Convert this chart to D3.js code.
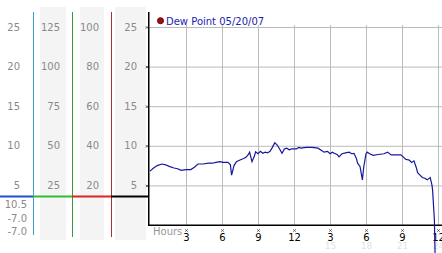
<html>
<head>
	<style>
		body { margin: 0; background: #fff; }
		svg text { font-family: "DejaVu Sans", Verdana, sans-serif; }
	</style>
</head>
<body>
	<script src="https://d3js.org/d3.v7.min.js"></script>
	<svg width="442" height="253"></svg>

	<script>
	// dew point readings, hours since midnight
	var hours = [0.0, 0.3, 0.6, 1.0, 1.3, 1.6, 2.0, 2.3, 2.6, 3.0, 3.4, 3.7, 4.0, 4.4, 4.9, 5.2, 5.5, 5.8, 6.1, 6.5,
		6.7, 6.8, 7.0, 7.2, 7.5, 7.8, 8.0, 8.2, 8.3, 8.4, 8.5, 8.7, 8.8, 9.0, 9.2, 9.4, 9.6, 9.8, 10.0, 10.2,
		10.4, 10.6, 10.8, 11.0, 11.2, 11.4, 11.6, 11.8, 12.2, 12.4, 12.6, 13.0, 13.5, 14.0, 14.3, 14.5, 14.8, 15.0, 15.2, 15.35,
		15.6, 15.75, 16.0, 16.3, 16.6, 16.8, 17.0, 17.2, 17.3, 17.5, 17.7, 17.8, 18.0, 18.1, 18.3, 18.6, 19.0, 19.5, 19.8, 20.1,
		20.5, 20.9, 21.1, 21.3, 21.6, 21.8, 22.0, 22.2, 22.3, 22.5, 22.7, 22.9, 23.1, 23.35, 23.5, 23.55, 23.7, 23.8];
	var dewPoint = [6.8, 7.2, 7.5, 7.7, 7.6, 7.4, 7.2, 7.1, 6.9, 7.0, 7.0, 7.3, 7.7, 7.7, 7.8, 7.8, 7.9, 8.0, 7.9, 7.9,
		7.6, 6.3, 7.5, 8.0, 8.2, 8.4, 8.55, 8.9, 9.2, 8.6, 8.0, 8.7, 9.25, 9.0, 9.3, 9.05, 9.2, 9.1, 9.3, 9.8,
		10.4, 10.1, 9.6, 9.05, 9.6, 9.7, 9.5, 9.6, 9.6, 9.8, 9.7, 9.8, 9.8, 9.7, 9.4, 9.2, 9.3, 9.0, 9.2, 9.05,
		8.9, 8.6, 9.0, 9.1, 9.2, 9.0, 9.05, 8.4, 7.8, 7.4, 5.7, 7.2, 9.0, 9.2, 9.0, 8.8, 8.9, 9.0, 9.2, 8.85,
		8.85, 8.85, 8.6, 8.3, 8.2, 7.9, 8.1, 7.2, 6.6, 6.3, 6.0, 5.9, 5.7, 6.0, 5.0, 4.4, 0.6, -7.0];

	var yTicks = [25, 20, 15, 10, 5];
	var col1 = [25, 20, 15, 10, 5];
	var col2 = [125, 100, 75, 50, 25];
	var col3 = [100, 80, 60, 40, 20];
	var col4 = [25, 20, 15, 10, 5];
	var xTicks = [3, 6, 9, 12, 15, 18, 21, 24];
	var xTickLabels = ["3", "6", "9", "12", "3", "6", "9", "12"];
	var faintTicks = [15, 18, 21, 24];
	var currentLevel = 3.6;
	var stats = ["10.5", "-7.0", "-7.0"];
	var legendLabel = "Dew Point 05/20/07";

	var svg = d3.select("svg");

	var x = d3.scaleLinear().domain([0, 24]).range([150, 438]);
	var y = d3.scaleLinear().domain([0, 25]).range([225, 27]);

	// left side scale columns
	var bands = [[40, 66], [80, 104], [115, 146]];
	svg.selectAll(".band").data(bands).enter().append("rect")
		.attr("x", function(d) { return d[0]; })
		.attr("y", 7)
		.attr("width", function(d) { return d[1] - d[0]; })
		.attr("height", 233)
		.attr("fill", "#f4f4f4");

	var cols = [{vals: col1, right: 20}, {vals: col2, right: 60}, {vals: col3, right: 99}, {vals: col4, right: 137}];
	cols.forEach(function(c) {
		svg.selectAll(null).data(c.vals).enter().append("text")
			.attr("x", c.right)
			.attr("y", function(d, i) { return y(yTicks[i]); })
			.attr("dy", "0.35em")
			.attr("text-anchor", "end")
			.attr("fill", "#8a8a8a")
			.style("font-size", "10px")
			.text(function(d) { return d; });
	});

	var dividers = [{x: 33, color: "#3aa0c8", bottom: 235}, {x: 72, color: "#3a9a3a", bottom: 237}, {x: 111, color: "#a83030", bottom: 237}];
	svg.selectAll(".divider").data(dividers).enter().append("line")
		.attr("x1", function(d) { return d.x + 0.5; })
		.attr("x2", function(d) { return d.x + 0.5; })
		.attr("y1", 12)
		.attr("y2", function(d) { return d.bottom; })
		.attr("stroke", function(d) { return d.color; });

	// current level bar across the columns
	var levelSegs = [[0, 33, "#1f4fd0"], [33, 72, "#33bb33"], [72, 111, "#dd2222"], [111, 149, "#000"]];
	svg.selectAll(".level").data(levelSegs).enter().append("line")
		.attr("x1", function(d) { return d[0]; })
		.attr("x2", function(d) { return d[1]; })
		.attr("y1", y(currentLevel))
		.attr("y2", y(currentLevel))
		.attr("stroke", function(d) { return d[2]; })
		.attr("stroke-width", 2.2);

	svg.selectAll(".stat").data(stats).enter().append("text")
		.attr("x", 27)
		.attr("y", function(d, i) { return 204.5 + i * 13.7; })
		.attr("dy", "0.35em")
		.attr("text-anchor", "end")
		.attr("fill", "#8a8a8a")
		.style("font-size", "10px")
		.text(function(d) { return d; });

	// grid
	svg.selectAll(".hgrid").data(yTicks).enter().append("line")
		.attr("x1", 149).attr("x2", 442)
		.attr("y1", function(d) { return y(d) + 0.5; })
		.attr("y2", function(d) { return y(d) + 0.5; })
		.attr("stroke", "#bbb");

	svg.selectAll(".vgrid").data(xTicks).enter().append("line")
		.attr("x1", function(d) { return Math.round(x(d)) + 0.5; })
		.attr("x2", function(d) { return Math.round(x(d)) + 0.5; })
		.attr("y1", 25).attr("y2", 225)
		.attr("stroke", "#bbb");

	// axes
	svg.append("line").attr("x1", 148.75).attr("x2", 148.75).attr("y1", 12).attr("y2", 226)
		.attr("stroke", "#000").attr("stroke-width", 1.5);
	svg.append("line").attr("x1", 148).attr("x2", 442).attr("y1", 225.25).attr("y2", 225.25)
		.attr("stroke", "#000").attr("stroke-width", 1.5);

	function cross(cx, cy) {
		return "M" + (cx - 1.2) + "," + (cy - 1.2) + "L" + (cx + 1.2) + "," + (cy + 1.2) +
			"M" + (cx + 1.2) + "," + (cy - 1.2) + "L" + (cx - 1.2) + "," + (cy + 1.2);
	}

	svg.selectAll(".ytick").data(yTicks).enter().append("path")
		.attr("d", function(d) { return cross(147, y(d) + 0.5); })
		.attr("stroke", "#333").attr("stroke-width", 0.8);

	svg.selectAll(".xtick").data(xTicks).enter().append("path")
		.attr("d", function(d) { return cross(Math.round(x(d)) + 0.5, 230.5); })
		.attr("stroke", "#333").attr("stroke-width", 0.8);

	svg.selectAll(".xlabel").data(xTicks).enter().append("text")
		.attr("x", function(d) { return Math.round(x(d)) + 0.5; })
		.attr("y", 237)
		.attr("dy", "0.35em")
		.attr("text-anchor", "middle")
		.attr("fill", "#000")
		.style("font-size", "10px")
		.text(function(d, i) { return xTickLabels[i]; });

	svg.selectAll(".faint").data(faintTicks).enter().append("text")
		.attr("x", function(d) { return Math.round(x(d)) + 0.5; })
		.attr("y", 246)
		.attr("dy", "0.35em")
		.attr("text-anchor", "middle")
		.attr("fill", "#e2e2e2")
		.style("font-size", "9px")
		.text(function(d) { return d; });

	svg.append("text")
		.attr("x", 153).attr("y", 231.5).attr("dy", "0.35em")
		.attr("fill", "#999")
		.style("font-size", "10px")
		.text("Hours");

	// dew point line
	var pts = hours.map(function(h, i) { return {h: h, v: dewPoint[i]}; });
	var line = d3.line()
		.x(function(d) { return x(d.h); })
		.y(function(d) { return y(d.v); });

	svg.append("path")
		.attr("d", line(pts))
		.attr("fill", "none")
		.attr("stroke", "#16169c")
		.attr("stroke-width", 1.2);

	// legend
	svg.append("circle").attr("cx", 160.5).attr("cy", 20.7).attr("r", 3)
		.attr("fill", "#a01010").attr("stroke", "#600");
	svg.append("text")
		.attr("x", 166).attr("y", 21).attr("dy", "0.35em")
		.attr("fill", "#1c1cb0")
		.style("font-size", "10px")
		.text(legendLabel);
	</script>
</body>
</html>
